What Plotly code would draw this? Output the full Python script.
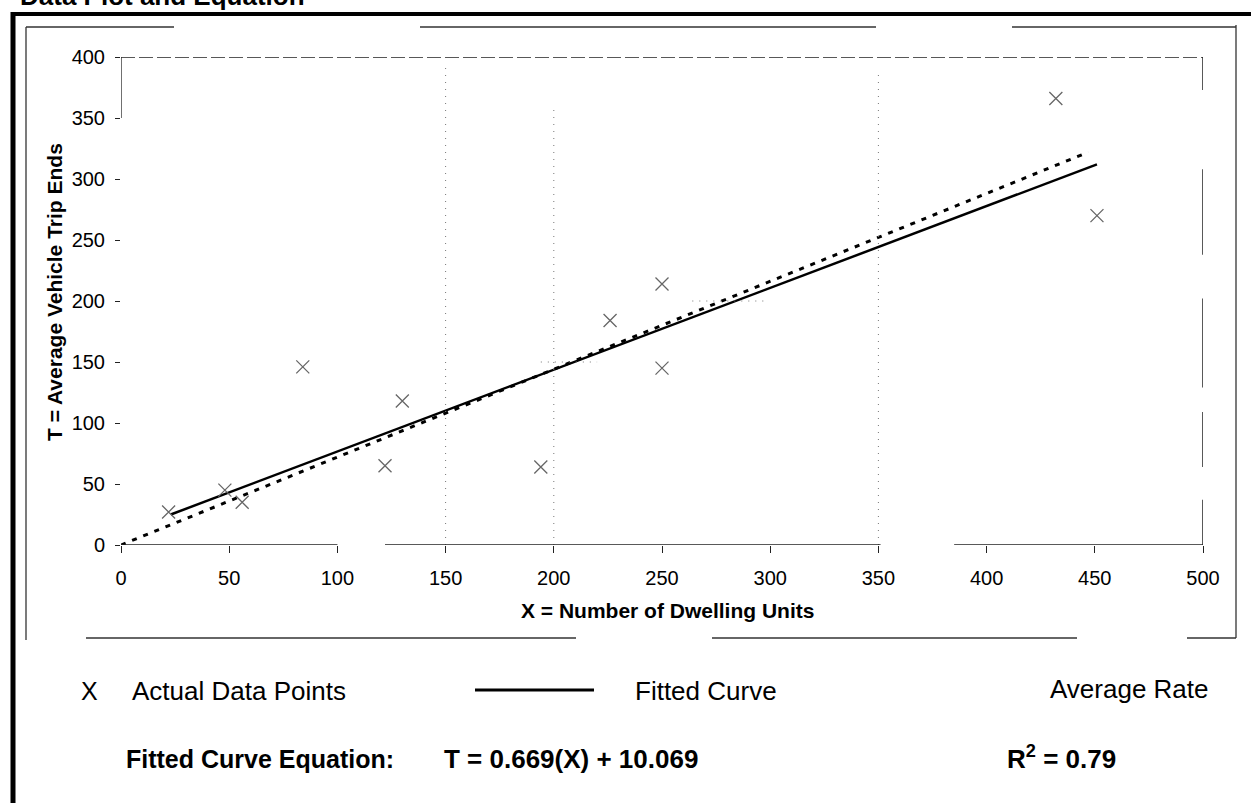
import plotly.graph_objects as go

# ---------------- data ----------------
units = [22, 48, 56, 84, 122, 130, 194, 226, 250, 250, 432, 451]
trips = [27, 45, 35, 146, 65, 118, 64, 184, 214, 145, 366, 270]

fit_x = [23, 451]          # fitted curve end points
fit_y = [25, 312]
avg_x = [0, 447]           # average rate line end points
avg_y = [0, 322]

x_ticks = [0, 50, 100, 150, 200, 250, 300, 350, 400, 450, 500]
y_ticks = [0, 50, 100, 150, 200, 250, 300, 350, 400]
grid_x = [150, 200, 350]
grid_x_top = [395, 358, 388]

title_text = "Data Plot and Equation"
x_title = "X = Number of Dwelling Units"
y_title = "T = Average Vehicle Trip Ends"
equation = "T = 0.669(X) + 10.069"
r2_text = "R<sup>2</sup> = 0.79"

# ---------------- layout geometry ----------------
W, H = 1251, 803
L, R, T, B = 121, 48, 57, 258
PW, PH = W - L - R, H - T - B
FONT = "Liberation Sans, Arial, Helvetica, sans-serif"


def px(x):
    return (x - L) / PW


def py(y):
    return (H - B - y) / PH


fig = go.Figure()

fig.add_trace(go.Scatter(
    x=fit_x, y=fit_y, mode="lines",
    line=dict(color="black", width=2.5), hoverinfo="skip", showlegend=False))
fig.add_trace(go.Scatter(
    x=avg_x, y=avg_y, mode="lines",
    line=dict(color="black", width=3, dash="5px,7px"), hoverinfo="skip", showlegend=False))
fig.add_trace(go.Scatter(
    x=units, y=trips, mode="markers",
    marker=dict(symbol="x-thin-open", size=13, color="#666666",
                line=dict(color="#666666", width=1.3)),
    showlegend=False))

shapes = []
# dotted partial gridlines
for gx, gt in zip(grid_x, grid_x_top):
    shapes.append(dict(type="line", xref="x", yref="y", x0=gx, x1=gx, y0=0, y1=gt,
                       line=dict(color="#777777", width=1, dash="1px,6px")))
shapes.append(dict(type="line", xref="x", yref="y", x0=264, x1=298, y0=200, y1=200,
                   line=dict(color="#777777", width=1, dash="1px,6px")))
shapes.append(dict(type="line", xref="x", yref="y", x0=194, x1=220, y0=150, y1=150,
                   line=dict(color="#777777", width=1, dash="1px,6px")))
# plot frame: top, right, left (upper part), bottom segments
shapes.append(dict(type="line", xref="x", yref="y", x0=0, x1=500, y0=400, y1=400,
                   line=dict(color="#222222", width=1.5, dash="14px,4px")))
for y0, y1 in [(373, 400), (238, 308), (129, 202), (64, 109), (0, 37)]:
    shapes.append(dict(type="line", xref="x", yref="y", x0=500, x1=500, y0=y0, y1=y1,
                       line=dict(color="#222222", width=1.5)))
shapes.append(dict(type="line", xref="x", yref="y", x0=0, x1=0, y0=350, y1=400,
                   line=dict(color="#222222", width=1.3)))
for x0, x1 in [(-2, 100), (122, 351), (385, 500)]:
    shapes.append(dict(type="line", xref="x", yref="y", x0=x0, x1=x1, y0=0, y1=0,
                       line=dict(color="#222222", width=1.5)))

# inner (thin) box with scan gaps
for x0, x1 in [(26, 174), (420, 876), (1012, 1236)]:
    shapes.append(dict(type="line", xref="paper", yref="paper", x0=px(x0), x1=px(x1),
                       y0=py(27), y1=py(27), line=dict(color="#333333", width=1.3)))
for x0, x1 in [(86, 576), (712, 1077), (1187, 1236)]:
    shapes.append(dict(type="line", xref="paper", yref="paper", x0=px(x0), x1=px(x1),
                       y0=py(638), y1=py(638), line=dict(color="#333333", width=1.3)))
shapes.append(dict(type="line", xref="paper", yref="paper", x0=px(26), x1=px(26),
                   y0=py(27), y1=py(640), line=dict(color="#333333", width=1.3)))
shapes.append(dict(type="line", xref="paper", yref="paper", x0=px(1236), x1=px(1236),
                   y0=py(25), y1=py(638), line=dict(color="#333333", width=1.3)))
# outer thick frame
shapes.append(dict(type="line", xref="paper", yref="paper", x0=px(13), x1=px(13),
                   y0=py(12), y1=py(803), line=dict(color="black", width=5)))
shapes.append(dict(type="line", xref="paper", yref="paper", x0=px(11), x1=px(1251),
                   y0=py(14), y1=py(14), line=dict(color="black", width=4)))
# legend sample line
shapes.append(dict(type="line", xref="paper", yref="paper", x0=px(475), x1=px(594),
                   y0=py(690), y1=py(690), line=dict(color="black", width=3)))

ann = []


def text(x, y, s, size, bold=False, xanchor="left", yanchor="middle", angle=0):
    ann.append(dict(x=px(x), y=py(y), xref="paper", yref="paper", text=s, showarrow=False,
                    xanchor=xanchor, yanchor=yanchor, textangle=angle,
                    font=dict(family=FONT, size=size, color="black",
                              weight="bold" if bold else "normal")))


text(18, 13, title_text, 26, bold=True, yanchor="bottom")
text(667, 610, x_title, 21, bold=True, xanchor="center")
text(54, 292, y_title, 21, bold=True, xanchor="center", angle=-90)
text(89, 691, "X", 25, xanchor="center")
text(130, 691, "Actual Data Points", 26)
text(633, 691, "Fitted Curve", 26)
text(1048, 689, "Average Rate", 26)
text(124, 759, "Fitted Curve Equation:", 25, bold=True)
text(442, 759, equation, 26, bold=True)
text(1005, 757, r2_text, 26, bold=True)

fig.update_layout(
    width=W, height=H,
    margin=dict(l=L, r=R, t=T, b=B, autoexpand=False),
    paper_bgcolor="white", plot_bgcolor="white",
    shapes=shapes, annotations=ann,
    xaxis=dict(range=[0, 500], tickvals=x_ticks, ticktext=[str(v) for v in x_ticks],
               showgrid=False, zeroline=False, showline=False,
               ticks="outside", ticklen=7, tickwidth=1.3, tickcolor="#222222",
               ticklabelstandoff=8,
               tickfont=dict(family=FONT, size=20, color="black")),
    yaxis=dict(range=[0, 400], tickvals=y_ticks, ticktext=[str(v) for v in y_ticks],
               showgrid=False, zeroline=False, showline=False,
               ticks="outside", ticklen=5, tickwidth=1.3, tickcolor="#222222",
               ticklabelstandoff=6,
               tickfont=dict(family=FONT, size=20, color="black")),
)

fig.write_html("out.html")
